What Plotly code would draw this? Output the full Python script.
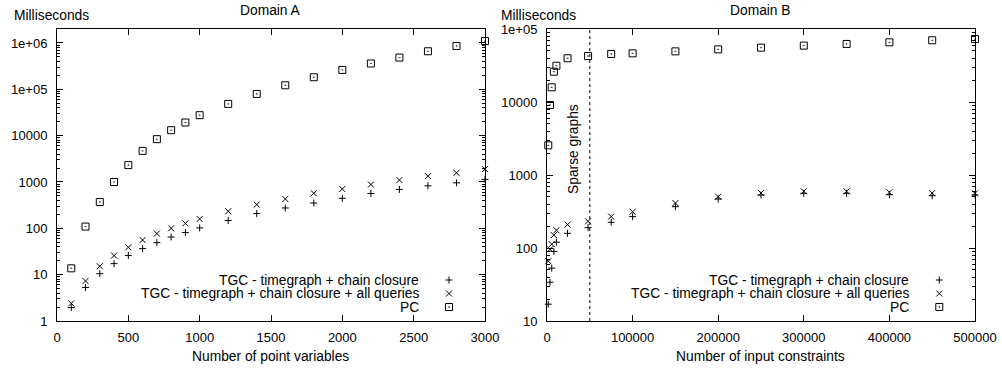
import plotly.graph_objects as go

# ---------------- data ----------------
# Domain A
a_vars = [100, 200, 300, 400, 500, 600, 700, 800, 900, 1000,
          1200, 1400, 1600, 1800, 2000, 2200, 2400, 2600, 2800, 3000]
a_tgc = [1.95, 5.3, 10.5, 17.3, 26, 36.5, 49, 65, 81, 102,
         147, 208, 275, 352, 444, 565, 691, 826, 959, 1136]
a_tgc_all = [2.4, 7.3, 15.2, 25.8, 39, 56, 77, 100, 128, 159,
             233, 325, 430, 570, 706, 880, 1097, 1337, 1575, 1893]
a_pc = [13.7, 109, 370, 1000, 2310, 4690, 8390, 13100, 19200, 27600,
        48400, 79400, 122000, 182000, 262000, 360000, 484000, 662000, 861000, 1100000]

# Domain B
b_cons = [1500, 3500, 5500, 8000, 11000, 24000, 48000, 75000, 100000,
          150000, 200000, 250000, 300000, 350000, 400000, 450000, 500000]
b_tgc = [17, 34, 53, 90, 120, 159, 190, 225, 269,
         368, 469, 532, 561, 561, 537, 520, 532]
b_tgc_all = [66, 96, 113, 150, 175, 209, 232, 269, 314,
             413, 505, 566, 598, 598, 580, 566, 561]
b_pc = [2550, 9100, 15900, 26000, 31400, 39700, 42600, 45500, 46400,
        49400, 52600, 55500, 59200, 62400, 65700, 70000, 73000]

sparse_threshold = 50000

series_names = ["TGC - timegraph + chain closure",
                "TGC - timegraph + chain closure + all queries",
                "PC"]
a_xtick_vals = [0, 500, 1000, 1500, 2000, 2500, 3000]
a_xtick_text = ["0", "500", "1000", "1500", "2000", "2500", "3000"]
b_xtick_vals = [0, 100000, 200000, 300000, 400000, 500000]
b_xtick_text = ["0", "100000", "200000", "300000", "400000", "500000"]
a_ytick_vals = [1, 10, 100, 1000, 10000, 100000, 1000000]
a_ytick_text = ["1", "10", "100", "1000", "10000", "1e+05", "1e+06"]
b_ytick_vals = [10, 100, 1000, 10000, 100000]
b_ytick_text = ["10", "100", "1000", "10000", "1e+05"]

# ---------------- style ----------------
FONT = "Liberation Sans"
TXT = 13.8
TICK = 13
W, H = 1002, 368
symbols = ["cross-thin-open", "x-thin-open", "square-open-dot"]
msize = [5, 6, 7]

fig = go.Figure()


def add_series(xs, ys_list, xa, ya):
    for ys, sym, ms, name in zip(ys_list, symbols, msize, series_names):
        fig.add_trace(go.Scatter(
            x=xs, y=ys, mode="markers", name=name, showlegend=False,
            xaxis=xa, yaxis=ya, cliponaxis=False,
            marker=dict(symbol=sym, size=ms, color="black",
                        line=dict(color="black", width=1)),
        ))


add_series(a_vars, [a_tgc, a_tgc_all, a_pc], "x", "y")
add_series(b_cons, [b_tgc, b_tgc_all, b_pc], "x2", "y2")

# legend markers (drawn on an overlay axis spanning the page)
leg_rows = [1 - 280 / H, 1 - 293.5 / H, 1 - 307 / H]
for lx in [449 / W, 939.3 / W]:
    for sym, ms, ly in zip(symbols, msize, leg_rows):
        fig.add_trace(go.Scatter(
            x=[lx], y=[ly], mode="markers", showlegend=False, hoverinfo="skip",
            xaxis="x3", yaxis="y3",
            marker=dict(symbol=sym, size=ms, color="black",
                        line=dict(color="black", width=1)),
        ))

y_top = 1 - 29 / H
y_bot = 1 - 321 / H

common = dict(showline=True, linecolor="black", linewidth=1, mirror="allticks",
              ticks="inside", ticklen=6, tickwidth=1, tickcolor="black",
              showgrid=False, zeroline=False, automargin=False,
              tickfont=dict(family=FONT, size=TICK, color="black"))

minor_a = [m * 10 ** d for d in range(0, 7) for m in range(2, 10)]
minor_b = [m * 10 ** d for d in range(1, 5) for m in range(2, 10)]

fig.update_layout(
    width=W, height=H, autosize=False,
    margin=dict(l=0, r=0, t=0, b=0, pad=0),
    paper_bgcolor="white", plot_bgcolor="rgba(0,0,0,0)",
    font=dict(family=FONT, size=TXT, color="black"),
    xaxis=dict(domain=[57 / W, 485 / W], range=[0, 3000], anchor="y",
               tickvals=a_xtick_vals, ticktext=a_xtick_text,
               ticklabelstandoff=4, **common),
    yaxis=dict(domain=[y_bot, y_top], type="log", range=[0, 6.30103], anchor="x",
               tickvals=a_ytick_vals, ticktext=a_ytick_text,
               ticklabelstandoff=6,
               minor=dict(tickvals=minor_a, ticks="inside", ticklen=3,
                          tickcolor="black", showgrid=False),
               **common),
    xaxis2=dict(domain=[547 / W, 975 / W], range=[0, 500000], anchor="y2",
                tickvals=b_xtick_vals, ticktext=b_xtick_text,
                ticklabelstandoff=4, **common),
    yaxis2=dict(domain=[y_bot, y_top], type="log", range=[1, 5], anchor="x2",
                tickvals=b_ytick_vals, ticktext=b_ytick_text,
                ticklabelstandoff=6,
                minor=dict(tickvals=minor_b, ticks="inside", ticklen=3,
                           tickcolor="black", showgrid=False),
                **common),
    xaxis3=dict(domain=[0, 1], range=[0, 1], visible=False, anchor="y3",
                showgrid=False, zeroline=False, fixedrange=True, automargin=False),
    yaxis3=dict(domain=[0, 1], range=[0, 1], visible=False, anchor="x3",
                showgrid=False, zeroline=False, fixedrange=True, automargin=False),
)

fig.add_shape(type="line", xref="x2", yref="y2",
              x0=sparse_threshold, x1=sparse_threshold, y0=10, y1=100000,
              line=dict(color="black", width=1, dash="dot"))


def ann(text, x, y, xanchor="center", yanchor="middle", angle=0, size=TXT):
    fig.add_annotation(text=text, x=x, y=y, xref="paper", yref="paper",
                       xanchor=xanchor, yanchor=yanchor, showarrow=False,
                       textangle=angle,
                       font=dict(family=FONT, size=size, color="black"))


ann("Domain A", 270.8 / W, 1 - 10 / H)
ann("Domain B", 760.3 / W, 1 - 10 / H)
ann("Milliseconds", 12 / W, 1 - 15 / H, xanchor="left")
ann("Milliseconds", 499 / W, 1 - 15 / H, xanchor="left")
ann("Number of point variables", 270 / W, 1 - 356 / H)
ann("Number of input constraints", 760.8 / W, 1 - 356 / H)
ann("Sparse graphs", 573 / W, 1 - 149 / H, angle=-90)

for rx in [420.7 / W, 910.7 / W]:
    for name, ly in zip(series_names, leg_rows):
        ann(name, rx, ly, xanchor="right")

fig.write_html("out.html")
